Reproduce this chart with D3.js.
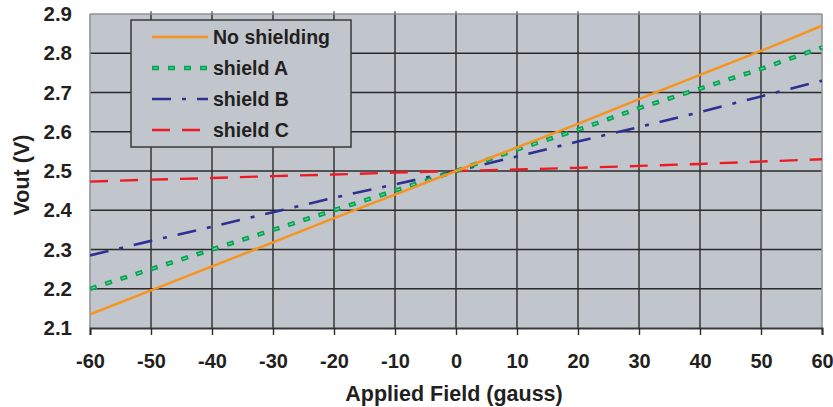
<!DOCTYPE html>
<html>
<head>
<meta charset="utf-8">
<script src="https://cdn.jsdelivr.net/npm/d3@7"></script>
<style>
  body { margin: 0; background: #fff; }
  text { font-family: "Liberation Sans", Arial, sans-serif; font-weight: bold; fill: #231f20; }
</style>
</head>
<body>
<svg id="chart" width="833" height="407"></svg>
<script>
// data
var fields = [-60, -50, -40, -30, -20, -10, 0, 10, 20, 30, 40, 50, 60];
var noShielding = [2.135, 2.196, 2.257, 2.318, 2.38, 2.44, 2.50, 2.56, 2.62, 2.683, 2.745, 2.806, 2.87];
var shieldA = [2.20, 2.25, 2.30, 2.35, 2.40, 2.45, 2.50, 2.555, 2.605, 2.66, 2.71, 2.76, 2.815];
var shieldB = [2.285, 2.322, 2.358, 2.395, 2.432, 2.466, 2.50, 2.537, 2.575, 2.612, 2.65, 2.69, 2.73];
var shieldC = [2.473, 2.478, 2.482, 2.487, 2.491, 2.496, 2.50, 2.504, 2.508, 2.513, 2.518, 2.524, 2.53];
var seriesNames = ['No shielding', 'shield A', 'shield B', 'shield C'];
var yTicks = [2.1, 2.2, 2.3, 2.4, 2.5, 2.6, 2.7, 2.8, 2.9];

var styles = [
  { color: '#f7941d', width: 2.5, dash: null },
  { color: '#00a651', width: 4.5, dash: '7,9' },
  { color: '#2e3192', width: 2.6, dash: '19,11,4,11' },
  { color: '#ed1c24', width: 2.4, dash: '18,12' }
];
var allSeries = [noShielding, shieldA, shieldB, shieldC];

var pLeft = 90, pRight = 822, pTop = 14, pBottom = 328;

var svg = d3.select('#chart');

var x = d3.scaleLinear().domain([-60, 60]).range([pLeft, pRight]);
var y = d3.scaleLinear().domain([2.1, 2.9]).range([pBottom, pTop]);

// plot background
svg.append('rect')
  .attr('x', pLeft).attr('y', pTop)
  .attr('width', pRight - pLeft).attr('height', pBottom - pTop)
  .attr('fill', '#c1c5cc');

// grid lines
svg.append('g').selectAll('line')
  .data(fields.slice(1, -1))
  .enter().append('line')
  .attr('x1', d => x(d)).attr('x2', d => x(d))
  .attr('y1', pTop).attr('y2', pBottom)
  .attr('stroke', '#2b2b2b').attr('stroke-width', 1.4);

svg.append('g').selectAll('line')
  .data(yTicks.slice(1, -1))
  .enter().append('line')
  .attr('x1', pLeft).attr('x2', pRight)
  .attr('y1', d => y(d)).attr('y2', d => y(d))
  .attr('stroke', '#2b2b2b').attr('stroke-width', 1.4);

// border: top/right/left light grey
svg.append('line').attr('x1', pLeft).attr('x2', pRight).attr('y1', pTop).attr('y2', pTop)
  .attr('stroke', '#8e9096').attr('stroke-width', 1.5);
svg.append('line').attr('x1', pRight).attr('x2', pRight).attr('y1', pTop).attr('y2', pBottom)
  .attr('stroke', '#8e9096').attr('stroke-width', 1.5);
svg.append('line').attr('x1', pLeft).attr('x2', pLeft).attr('y1', pTop).attr('y2', pBottom)
  .attr('stroke', '#8e9096').attr('stroke-width', 1.5);

// x axis with ticks below
var xAxis = d3.axisBottom(x).tickValues(fields).tickSize(7).tickPadding(19)
  .tickFormat(d => String(d));
var gx = svg.append('g').attr('transform', 'translate(0,' + pBottom + ')').call(xAxis);
gx.select('.domain').attr('stroke', '#3a3a3a').attr('stroke-width', 2);
gx.selectAll('.tick line').attr('stroke', '#2b2b2b').attr('stroke-width', 1.4);
gx.selectAll('.tick text').style('font-size', '20px').style('font-family', '"Liberation Sans", Arial, sans-serif')
  .style('font-weight', 'bold').attr('fill', '#231f20');

// small ticks on top edge
svg.append('g').selectAll('line')
  .data(fields.slice(1, -1))
  .enter().append('line')
  .attr('x1', d => x(d)).attr('x2', d => x(d))
  .attr('y1', pTop - 3).attr('y2', pTop)
  .attr('stroke', '#555').attr('stroke-width', 1.2);

// y axis labels only
var yAxis = d3.axisLeft(y).tickValues(yTicks).tickSize(0).tickPadding(18).tickFormat(d3.format('.1f'));
var gy = svg.append('g').attr('transform', 'translate(' + pLeft + ',0)').call(yAxis);
gy.select('.domain').remove();
gy.selectAll('.tick text').style('font-size', '20.5px').style('font-family', '"Liberation Sans", Arial, sans-serif')
  .style('font-weight', 'bold').attr('fill', '#231f20');

// lines
var line = d3.line()
  .x((d, i) => x(fields[i]))
  .y(d => y(d));

svg.append('clipPath').attr('id', 'plotclip')
  .append('rect').attr('x', pLeft).attr('y', pTop - 2).attr('width', pRight - pLeft + 2).attr('height', pBottom - pTop + 2);

var plot = svg.append('g').attr('clip-path', 'url(#plotclip)');

// draw order: red, blue, green, orange
[3, 2, 1, 0].forEach(function(k) {
  var st = styles[k];
  var p = plot.append('path').datum(allSeries[k])
    .attr('d', line)
    .attr('fill', 'none')
    .attr('stroke', st.color)
    .attr('stroke-width', st.width);
  if (st.dash) p.attr('stroke-dasharray', st.dash);
  if (k == 1) {
    // lighter centre of the green blocks
    plot.append('path').datum(allSeries[k])
      .attr('d', line)
      .attr('fill', 'none')
      .attr('stroke', '#7dcf9c')
      .attr('stroke-width', 1.2)
      .attr('stroke-dasharray', '4,12')
      .attr('stroke-dashoffset', -1.5);
  }
});

// legend
var lg = svg.append('g');
lg.append('rect')
  .attr('x', 131).attr('y', 20)
  .attr('width', 220).attr('height', 127)
  .attr('fill', '#c1c5cc')
  .attr('stroke', '#3a3a3a').attr('stroke-width', 1.5);

var legendY = d3.scalePoint().domain(seriesNames).range([37, 130]);

seriesNames.forEach(function(name, k) {
  var yy = legendY(name);
  var st = styles[k];
  var l = lg.append('line')
    .attr('x1', 152).attr('x2', 208)
    .attr('y1', yy).attr('y2', yy)
    .attr('stroke', st.color).attr('stroke-width', st.width);
  if (st.dash) l.attr('stroke-dasharray', st.dash);
  if (k == 1) {
    lg.append('line')
      .attr('x1', 152).attr('x2', 208)
      .attr('y1', yy).attr('y2', yy)
      .attr('stroke', '#7dcf9c').attr('stroke-width', 1.2)
      .attr('stroke-dasharray', '4,12').attr('stroke-dashoffset', -1.5);
  }
  lg.append('text')
    .attr('x', 213).attr('y', yy)
    .attr('dy', '0.36em')
    .style('font-size', '19.5px')
    .text(name);
});

// axis titles
svg.append('text')
  .attr('x', (pLeft + pRight) / 2 - 2).attr('y', 401)
  .attr('text-anchor', 'middle')
  .style('font-size', '21.5px')
  .text('Applied Field (gauss)');

svg.append('text')
  .attr('transform', 'translate(29,175) rotate(-90)')
  .attr('text-anchor', 'middle')
  .style('font-size', '21.5px')
  .text('Vout (V)');
</script>
</body>
</html>
